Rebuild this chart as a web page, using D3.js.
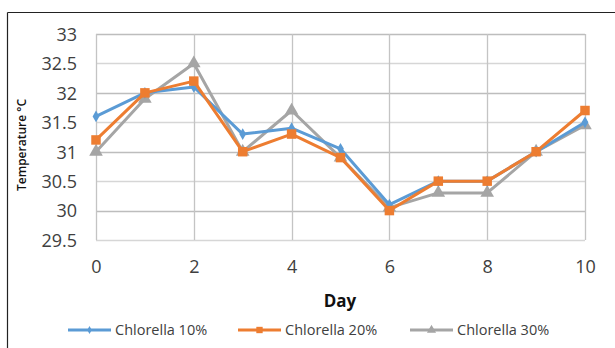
<!DOCTYPE html>
<html>
<head>
<meta charset="utf-8">
<script src="https://cdn.jsdelivr.net/npm/d3@7"></script>
<style>
  html, body { margin: 0; padding: 0; background: #fff; }
  svg { display: block; font-family: "Open Sans", "Liberation Sans", sans-serif; }
</style>
</head>
<body>
<svg id="chart" width="615" height="348"></svg>
<script>
// Daily water temperature for three Chlorella doses
const days = [0, 1, 2, 3, 4, 5, 6, 7, 8, 9, 10];
const chlorella10 = [31.6, 32.0, 32.1, 31.3, 31.4, 31.05, 30.1, 30.5, 30.5, 31.0, 31.5];
const chlorella20 = [31.2, 32.0, 32.2, 31.0, 31.3, 30.9, 30.0, 30.5, 30.5, 31.0, 31.7];
const chlorella30 = [31.0, 31.9, 32.5, 31.0, 31.7, 30.9, 30.05, 30.3, 30.3, 31.0, 31.45];
const seriesNames = ["Chlorella 10%", "Chlorella 20%", "Chlorella 30%"];
const xTicks = [0, 2, 4, 6, 8, 10];
const yTicks = [29.5, 30, 30.5, 31, 31.5, 32, 32.5, 33];

const colors = ["#5B9BD5", "#ED7D31", "#A5A5A5"];
const symbols = [d3.symbolDiamond, d3.symbolSquare, d3.symbolTriangle];
const symbolSizes = [40, 90, 80];

const svg = d3.select("#chart");

// outer frame (top and left edges)
svg.append("line").attr("x1", 7.5).attr("x2", 615).attr("y1", 12.5).attr("y2", 12.5)
  .attr("stroke", "#222").attr("stroke-width", 1.2);
svg.append("line").attr("x1", 7.5).attr("x2", 7.5).attr("y1", 12.5).attr("y2", 348)
  .attr("stroke", "#222").attr("stroke-width", 1.2);

const x = d3.scaleLinear().domain([0, 10]).range([96, 585]);
const y = d3.scaleLinear().domain([29.5, 33]).range([240, 34]);

// gridlines
const grid = svg.append("g");
grid.selectAll("line.h").data(yTicks).join("line")
  .attr("x1", x(0)).attr("x2", x(10))
  .attr("y1", d => Math.round(y(d)) + 0.5).attr("y2", d => Math.round(y(d)) + 0.5)
  .attr("stroke", d => Number.isInteger(d) ? "#BDBDBD" : "#D6D6D6")
  .attr("stroke-width", 1.3);
grid.selectAll("line.v").data(xTicks).join("line")
  .attr("x1", d => Math.round(x(d)) + 0.5).attr("x2", d => Math.round(x(d)) + 0.5)
  .attr("y1", y(33)).attr("y2", y(29.5))
  .attr("stroke", "#C4C4C4")
  .attr("stroke-width", 1.3);

// y axis tick labels
const yAxis = d3.axisLeft(y).tickValues(yTicks).tickSize(0).tickPadding(0)
  .tickFormat(d3.format("~g"));
svg.append("g").attr("transform", "translate(77,0)").call(yAxis)
  .call(g => g.select(".domain").remove())
  .selectAll("text")
  .attr("font-family", "'Open Sans', sans-serif")
  .attr("font-size", 18).attr("fill", "#404040").attr("dy", "0.35em");

// x axis tick labels
const xAxis = d3.axisBottom(x).tickValues(xTicks).tickSize(0).tickPadding(0);
svg.append("g").attr("transform", "translate(0,260)").call(xAxis)
  .call(g => g.select(".domain").remove())
  .selectAll("text")
  .attr("font-family", "'Open Sans', sans-serif")
  .attr("font-size", 18).attr("fill", "#404040").attr("dy", "0.71em");

// axis titles
svg.append("text").attr("x", 340).attr("y", 307).attr("text-anchor", "middle")
  .attr("font-size", 17).attr("font-weight", "bold").attr("fill", "#111").text("Day");
svg.append("text")
  .attr("transform", "translate(26,145) rotate(-90)")
  .attr("text-anchor", "middle")
  .attr("font-size", 12).attr("font-weight", 600).attr("fill", "#111")
  .text("Temperature °C");

// series lines and markers
const allSeries = [chlorella10, chlorella20, chlorella30];
const line = d3.line().x((d, i) => x(days[i])).y(d => y(d));
const order = [2, 0, 1];
order.forEach(s => {
  const vals = allSeries[s];
  svg.append("path").datum(vals)
    .attr("d", line).attr("fill", "none")
    .attr("stroke", colors[s]).attr("stroke-width", 3)
    .attr("stroke-linejoin", "round");
  svg.append("g").selectAll("path").data(vals).join("path")
    .attr("transform", (d, i) => `translate(${x(days[i])},${y(d)})`)
    .attr("d", d3.symbol().type(symbols[s]).size(symbolSizes[s]))
    .attr("fill", colors[s]);
});

// legend
const legendX = [68, 238, 410];
const legend = svg.append("g");
seriesNames.forEach((name, s) => {
  const g = legend.append("g").attr("transform", `translate(${legendX[s]},330)`);
  g.append("line").attr("x1", 0).attr("x2", 43).attr("y1", 0).attr("y2", 0)
    .attr("stroke", colors[s]).attr("stroke-width", 3);
  g.append("path").attr("transform", "translate(21.5,0)")
    .attr("d", d3.symbol().type(symbols[s]).size(symbolSizes[s] * 0.45))
    .attr("fill", colors[s]);
  g.append("text").attr("x", 47).attr("y", 0).attr("dy", "0.35em")
    .attr("font-size", 14.5).attr("fill", "#404040").text(name);
});
</script>
</body>
</html>
